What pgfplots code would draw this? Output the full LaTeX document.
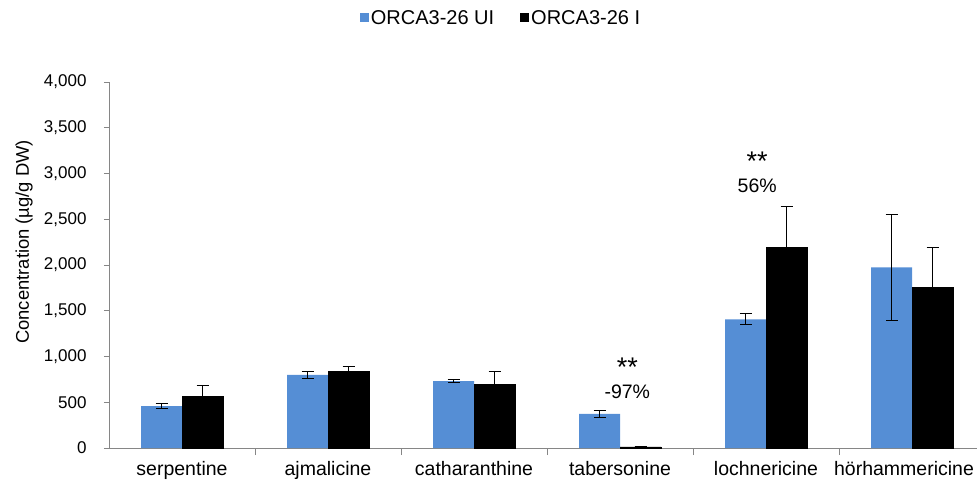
\documentclass[border=0pt]{standalone}
\usepackage{pgfplots}
\pgfplotsset{compat=1.18}
\usepackage{fontspec}
\setmainfont{Liberation Sans}
\definecolor{barblue}{RGB}{85,142,213}
\definecolor{axgray}{RGB}{134,134,134}
\begin{document}
\begin{tikzpicture}
\useasboundingbox (0,0) rectangle (977pt,482pt);
\begin{axis}[
  at={(109pt,34pt)}, anchor=south west,
  scale only axis, width=876pt, height=366pt,
  xmin=-0.5, xmax=5.5, ymin=0, ymax=4000,
  ybar=0pt, bar width=41pt,
  axis x line*=bottom, axis y line*=left,
  axis line style={axgray, line width=0.9pt},
  tick style={axgray, line width=0.9pt},
  tick align=outside,
  major tick length=5pt,
  minor tick length=7pt,
  ytick={0,500,...,4000},
  scaled y ticks=false,
  /pgf/number format/.cd, 1000 sep={,}, assume math mode=true, /pgfplots/.cd,
  y tick label style={font=\fontsize{17}{17}\selectfont, xshift=-14pt},
  xtick={0,...,5},
  xticklabels={serpentine,ajmalicine,catharanthine,tabersonine,lochnericine,{\hspace*{-16pt}hörhammericine}},
  x tick label style={font=\fontsize{19.5}{19.5}\selectfont, yshift=-5pt},
  major x tick style={draw=none},
  minor xtick={0.5,1.5,2.5,3.5,4.5},
  ylabel={Concentration (µg/g DW)},
  ylabel style={font=\fontsize{18.4}{18.4}\selectfont, at={(axis description cs:-0.097,0.563)}, anchor=center},
  legend style={at={(axis description cs:0.4475,1.175)}, anchor=center, draw=none, font=\fontsize{20}{20}\selectfont, legend columns=2},
  legend image code/.code={\path[#1, draw=none] (0pt,-4.5pt) rectangle (9pt,4.5pt);},
  /tikz/every even column/.append style={column sep=24pt},
  error bars/y dir=both, error bars/y explicit,
  error bars/error bar style={line width=1pt, black},
  error bars/error mark options={rotate=90, mark size=6pt, line width=1pt, black},
]
\addplot[fill=barblue, draw=none] table[x=x, y=y, y error=e] {
x y e
0 459 25
1 798 35
2 732 15
3 372 35
4 1406 60
5 1975 580
};
\addplot[fill=black, draw=black] table[x=x, y=y, y error=e] {
x y e
0 561 117
1 838 50
2 696 135
3 12 0
4 2193 445
5 1756 437
};
\legend{ORCA3-26 UI, ORCA3-26 I}
\node[font=\fontsize{27}{27}\selectfont] at (axis cs:3.05,880) {**};
\node[font=\fontsize{19.5}{19.5}\selectfont] at (axis cs:3.05,612) {-97\%};
\node[font=\fontsize{27}{27}\selectfont] at (axis cs:3.94,3130) {**};
\node[font=\fontsize{19.5}{19.5}\selectfont] at (axis cs:3.94,2863) {56\%};
\end{axis}
\end{tikzpicture}
\end{document}
